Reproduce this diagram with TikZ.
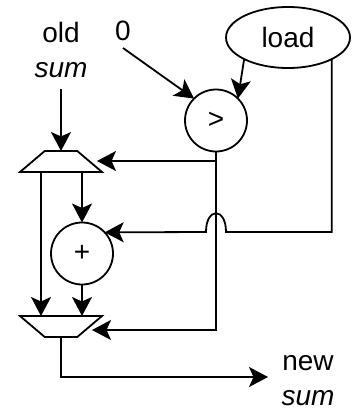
\documentclass[tikz,border=0pt]{standalone}
\usepackage{fontspec}
\setmainfont{Liberation Sans}
\usetikzlibrary{positioning,arrows.meta,shapes.geometric}
\begin{document}
\begin{tikzpicture}[x=1pt, y=-1pt, line width=1.8pt,
  lab/.style={font=\fontsize{28}{35}\selectfont, align=center, inner sep=0},
  op/.style={circle, draw, minimum size=62pt, inner sep=0, outer sep=0,
             font=\fontsize{28}{28}\selectfont},
  mux/.style={trapezium, draw, trapezium stretches=true, trapezium angle=52.7,
              minimum width=82pt, minimum height=21pt, inner sep=1pt, outer sep=0},
  wire/.style={-{Stealth[length=19pt, width=20pt, inset=4.5pt]}}]
\useasboundingbox (0,0) rectangle (353,410);
\node[lab] (oldsum) at (61,50) {old\\\itshape sum};
\node[lab] (zero) at (123,31) {0};
\node[lab] (newsum) at (308,380.5) {new\\\itshape sum};
\node[ellipse, draw, minimum width=124pt, minimum height=61pt, inner sep=0,
      outer sep=0, font=\fontsize{28}{35}\selectfont] (load) at (288,37.5) {load};
\node[op] (cmp) at (216,120.5) {\raisebox{-3pt}{>}};
\node[op] (plus) at (82,253.5) {\raisebox{-3pt}{+}};
\node[mux] (oldmux) at (61,161.5) {};
\node[mux, shape border rotate=180] (newmux) at (61,326.5) {};
\coordinate (bypass) at (41,172);
\coordinate (oldin) at (97,161);
\coordinate (newin) at (92,330);
\coordinate (jumpr) at (226,232);
\coordinate (jumpl) at (206,232);
\coordinate (outend) at (268,377);
\draw[wire] (61,89) -- (oldmux.north);
\draw[wire] (123,48) -- (cmp.north west);
\draw[wire] (load.south west) -- (cmp.north east);
\draw[wire] (cmp |- oldin) -- (oldin);
\draw[wire] (cmp.south) |- (newin);
\draw[wire] (load.south east) |- (jumpr)
  .. controls (226,207) and (206,207) .. (jumpl) -- (plus.43);
\draw[wire] (plus |- oldmux.south) -- (plus.north);
\draw[wire] (plus.south) -- (plus |- newmux.north);
\draw[wire] (bypass) -- (bypass |- newmux.north);
\draw[wire] (newmux.south) |- (outend);
\end{tikzpicture}
\end{document}
